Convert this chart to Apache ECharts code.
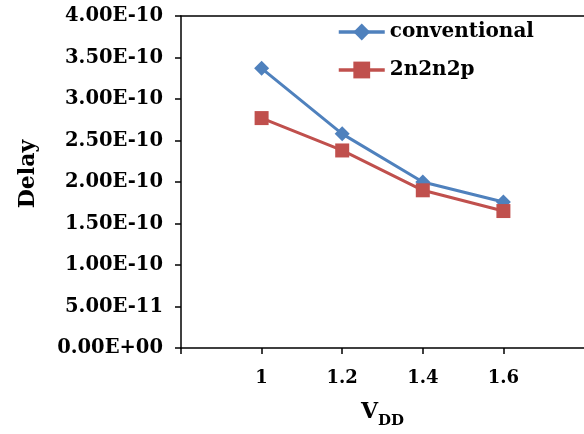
<!DOCTYPE html>
<html>
<head>
<meta charset="utf-8">
<script src="https://cdn.jsdelivr.net/npm/echarts@6/dist/echarts.min.js"></script>
<style>html,body{margin:0;padding:0;background:#fff}#c{width:584px;height:434px}</style>
</head>
<body>
<div id="c"></div>
<script>
var vdd = [1, 1.2, 1.4, 1.6];
var conventional = [3.37e-10, 2.58e-10, 2.00e-10, 1.76e-10];
var twoN2n2p = [2.77e-10, 2.38e-10, 1.90e-10, 1.65e-10];
var xTickValues = [0.8, 1, 1.2, 1.4, 1.6];
var xLabelValues = [1, 1.2, 1.4, 1.6];

var FONT = 'DejaVu Serif';
function expLabel(v) {
  var s = Math.abs(v) < 1e-20 ? (0).toExponential(2) : v.toExponential(2);
  var parts = s.split('e');
  var sign = parts[1].charAt(0);
  var num = parts[1].slice(1);
  if (num.length < 2) num = '0' + num;
  return parts[0] + 'E' + sign + num;
}

var chart = echarts.init(document.getElementById('c'));
chart.setOption({
  animation: false,
  backgroundColor: '#fff',
  grid: {left: 181, top: 16, bottom: 84, right: -2, show: false},
  legend: {
    orient: 'vertical', left: 337, top: 22, padding: 0, itemWidth: 46, itemHeight: 21, itemGap: 18,
    lineStyle: {width: 3.5},
    textStyle: {fontFamily: FONT, fontWeight: 'bold', fontSize: 20, color: '#000'},
    data: ['conventional', '2n2n2p']
  },
  xAxis: [{
    type: 'value', min: 0.8, max: 1.8, interval: 0.2,
    axisLine: {lineStyle: {color: '#000', width: 1.5}},
    axisTick: {show: true, length: 6, customValues: xTickValues, lineStyle: {color: '#000', width: 1.5}},
    splitLine: {show: false},
    axisLabel: {
      margin: 21, fontFamily: FONT, fontWeight: 'bold', fontSize: 18, color: '#000',
      customValues: xLabelValues,
      formatter: function (v) { return String(Math.round(v * 10) / 10); }
    },
    name: '{v|V}{s|DD}', nameLocation: 'middle', nameGap: 53,
    nameTextStyle: {
      rich: {
        v: {fontFamily: FONT, fontWeight: 'bold', fontSize: 22, color: '#000', verticalAlign: 'bottom'},
        s: {fontFamily: FONT, fontWeight: 'bold', fontSize: 15, color: '#000', verticalAlign: 'bottom', padding: [0, 0, -6, 0]}
      }
    }
  }, {
    type: 'value', position: 'top', min: 0.8, max: 1.8, interval: 0.2,
    axisLine: {show: true, lineStyle: {color: '#000', width: 1.5}},
    axisTick: {show: false}, axisLabel: {show: false}, splitLine: {show: false}
  }],
  yAxis: {
    type: 'value', min: 0, max: 4e-10, interval: 0.5e-10,
    axisLine: {show: true, lineStyle: {color: '#000', width: 1.5}},
    axisTick: {show: true, length: 6, lineStyle: {color: '#000', width: 1.5}},
    splitLine: {show: false},
    axisLabel: {margin: 18, fontFamily: FONT, fontWeight: 'bold', fontSize: 19.5, color: '#000', formatter: expLabel},
    name: 'Delay', nameLocation: 'middle', nameGap: 142, nameRotate: 90,
    nameTextStyle: {fontFamily: FONT, fontWeight: 'bold', fontSize: 22, color: '#000', padding: [0, 0, 0, 16]}
  },
  series: [
    {
      name: 'conventional', type: 'line', data: vdd.map(function (x, i) { return [x, conventional[i]]; }),
      symbol: 'diamond', symbolSize: 15, lineStyle: {width: 3, color: '#4f81bd'},
      itemStyle: {color: '#4f81bd'}, z: 2
    },
    {
      name: '2n2n2p', type: 'line', data: vdd.map(function (x, i) { return [x, twoN2n2p[i]]; }),
      symbol: 'rect', symbolSize: 14, lineStyle: {width: 3, color: '#c0504d'},
      itemStyle: {color: '#c0504d'}, z: 3
    }
  ]
});
</script>
</body>
</html>
